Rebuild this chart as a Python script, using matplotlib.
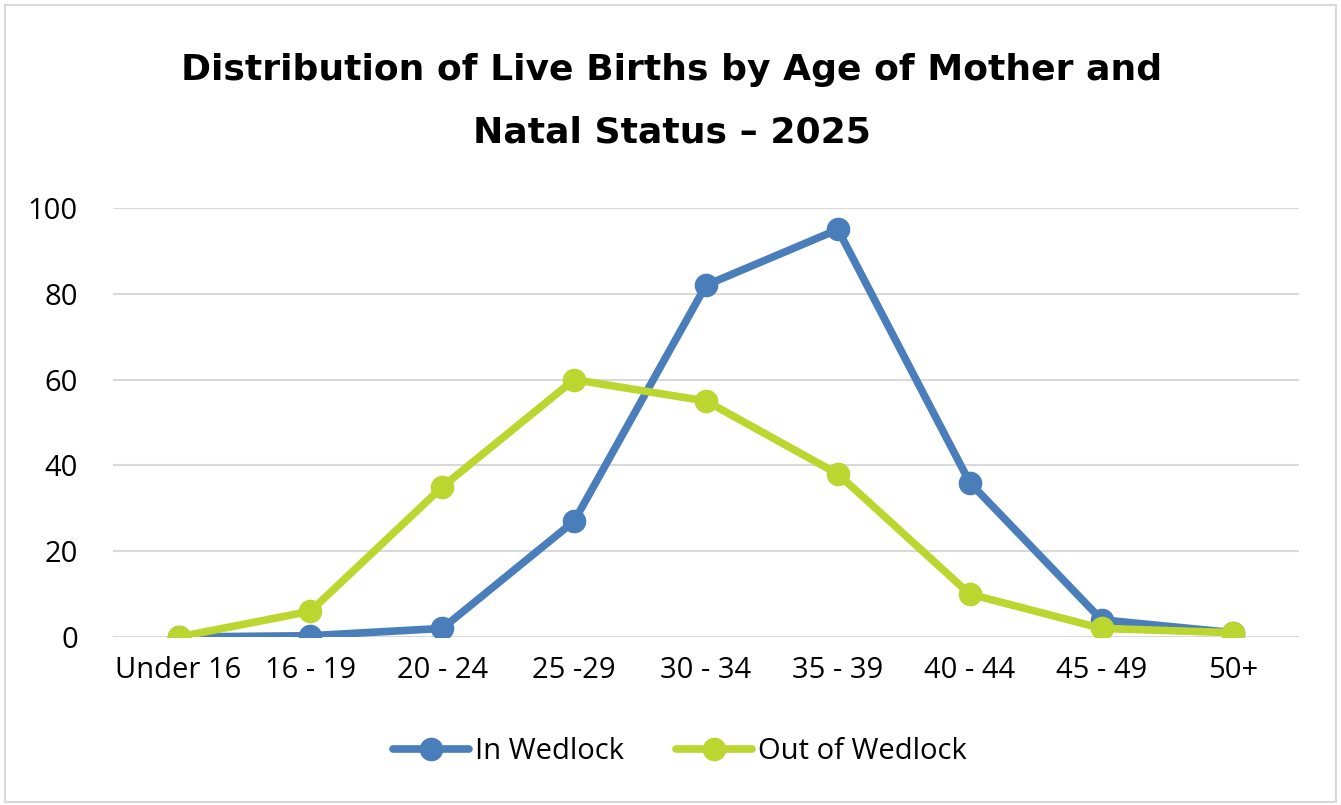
import matplotlib.pyplot as plt
from matplotlib.patches import Rectangle

# age groups and percentages
age_groups = ["Under 16", "16 - 19", "20 - 24", "25 -29", "30 - 34",
              "35 - 39", "40 - 44", "45 - 49", "50+"]
in_wedlock = [0, 0.3, 2, 27, 82, 95, 36, 4, 1]
out_of_wedlock = [0, 6, 35, 60, 55, 38, 10, 2, 1]

BLUE = "#4A7EBB"
GREEN = "#BCD630"
TICK_FONT = "Open Sans"

fig = plt.figure(figsize=(13.41, 8.05), dpi=100)
ax = fig.add_axes([0.084, 0.2087, 0.885, 0.5329])

x = range(len(age_groups))
ax.plot(x, in_wedlock, color=BLUE, lw=5.5, marker="o", ms=16,
        label="In Wedlock", solid_capstyle="round", zorder=3)
ax.plot(x, out_of_wedlock, color=GREEN, lw=5.5, marker="o", ms=16,
        label="Out of Wedlock", solid_capstyle="round", zorder=4)

ax.set_xlim(-0.5, 8.5)
ax.set_ylim(0, 100)
ax.set_yticks([0, 20, 40, 60, 80, 100])
ax.set_xticks(list(x))
ax.set_xticklabels(age_groups, family=TICK_FONT, fontsize=21)
for lab in ax.get_yticklabels():
    lab.set_family(TICK_FONT)
    lab.set_fontsize(21)
ax.tick_params(length=0, pad=14)
ax.tick_params(axis="y", pad=25)
ax.grid(axis="y", color="#D9D9D9", lw=1.5)
ax.set_axisbelow(True)
for s in ax.spines.values():
    s.set_visible(False)

fig.text(0.501, 0.913, "Distribution of Live Births by Age of Mother and",
         ha="center", va="center", fontsize=26, fontweight="bold",
         family="DejaVu Sans")
fig.text(0.501, 0.835, "Natal Status \u2013 2025", ha="center", va="center",
         fontsize=26, fontweight="bold", family="DejaVu Sans")

leg = fig.legend(loc="center", bbox_to_anchor=(0.507, 0.066), ncol=2,
                 frameon=False, prop={"family": TICK_FONT, "size": 21},
                 handlelength=2.6, columnspacing=1.8, handletextpad=0.2)

# light frame around the chart area
fig.patches.append(Rectangle((0.004, 0.004), 0.992, 0.99, transform=fig.transFigure,
                             fill=False, ec="#D9D9D9", lw=1.5))

fig.savefig("out.png", dpi=100)
